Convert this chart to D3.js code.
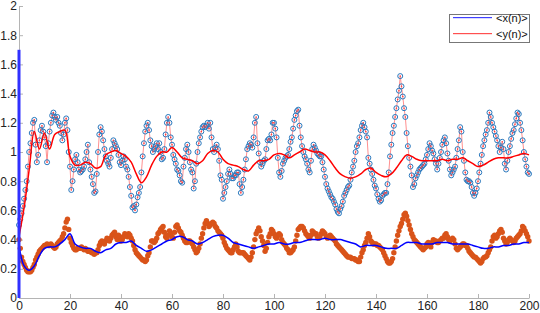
<!DOCTYPE html>
<html>
<head>
<meta charset="utf-8">
<script src="https://cdn.jsdelivr.net/npm/d3@7"></script>
<style>
  html, body { margin: 0; padding: 0; background: #fff; }
  svg { display: block; }
  .axis path, .axis line { stroke: #b4b4b4; }
  .axis text { font-family: "Liberation Sans", Arial, sans-serif; font-size: 12px; fill: #222; }
</style>
</head>
<body>
<div id="chart"></div>
<script>
// samples y(n), n = 0..200 (step 0.5)
const yVals = [
  0.50,0.54,0.58,0.63,0.68,0.74,0.80,0.90,1.00,1.06,
  1.13,1.20,1.22,1.05,0.93,0.98,1.08,1.15,1.18,1.14,
  1.10,1.04,0.93,1.06,1.14,1.20,1.25,1.27,1.24,1.22,
  1.24,1.20,1.18,1.13,1.08,1.12,1.20,1.23,1.15,1.00,
  0.90,0.74,0.80,0.88,0.95,0.98,0.93,0.88,0.86,0.87,
  0.88,0.90,0.95,1.00,1.05,0.93,0.88,0.83,0.78,0.72,
  0.73,0.85,1.00,1.12,1.17,1.14,1.08,1.02,0.97,0.94,
  0.92,0.90,0.96,1.02,1.08,1.06,1.04,1.02,0.98,0.93,
  0.91,0.94,0.97,0.95,0.90,0.88,0.83,0.76,0.70,0.62,
  0.63,0.60,0.64,0.69,0.72,0.76,0.86,0.97,1.06,1.14,
  1.18,1.20,1.15,1.08,1.04,1.00,1.02,1.04,1.06,1.02,
  1.06,1.00,0.95,0.96,1.02,1.12,1.20,1.24,1.20,1.10,
  1.05,0.98,0.95,0.92,0.88,0.87,0.84,0.80,0.79,0.90,
  0.96,1.02,1.05,1.00,0.93,0.88,0.86,0.75,0.80,0.92,
  1.00,1.06,1.10,1.14,1.17,1.18,1.17,1.18,1.20,1.16,
  1.20,1.10,1.02,1.00,1.03,1.05,1.02,0.94,0.84,0.81,
  0.68,0.72,0.76,0.80,0.85,0.88,0.85,0.82,0.82,0.84,
  0.84,0.86,0.86,0.78,0.72,0.76,0.81,0.88,0.95,1.02,
  1.04,1.06,1.05,1.03,1.10,1.20,1.24,1.06,0.99,0.93,
  0.90,0.92,0.94,0.95,1.02,1.08,1.09,1.08,1.12,1.20,
  1.20,1.16,1.10,0.96,0.86,0.83,0.87,0.92,0.94,0.96,
  0.97,0.98,1.02,1.07,1.10,1.16,1.22,1.25,1.28,1.29,
  1.18,1.10,1.04,1.00,0.97,0.95,0.92,0.88,0.86,0.94,
  1.02,1.05,1.03,1.01,0.99,0.98,0.97,0.97,0.93,0.88,
  0.83,0.78,0.75,0.73,0.71,0.69,0.68,0.66,0.64,0.61,
  0.59,0.58,0.61,0.63,0.66,0.70,0.72,0.74,0.76,0.77,
  0.81,0.86,0.90,0.94,1.00,1.04,1.06,1.10,1.15,1.18,
  1.20,1.17,1.14,1.10,0.96,0.92,0.88,0.85,0.81,0.77,
  0.75,0.71,0.68,0.66,0.67,0.70,0.71,0.72,0.72,0.78,
  0.86,0.97,1.05,1.13,1.18,1.24,1.30,1.36,1.42,1.52,
  1.45,1.38,1.30,1.24,1.13,1.04,0.96,0.90,0.84,0.76,
  0.78,0.82,0.84,0.86,0.88,0.89,0.90,0.91,0.92,0.95,
  0.98,1.02,1.06,1.04,1.01,0.99,0.95,0.92,0.88,0.92,
  0.96,1.00,1.05,1.08,1.10,1.06,0.99,0.94,0.88,0.84,
  0.86,0.88,0.90,0.96,1.02,1.08,1.17,1.14,1.00,0.94,
  0.86,0.81,0.80,0.80,0.79,0.76,0.72,0.70,0.72,0.75,
  0.80,0.86,0.92,0.98,1.04,1.08,1.12,1.15,1.20,1.27,
  1.24,1.20,1.17,1.14,1.11,1.08,1.04,1.00,1.03,1.07,
  1.02,0.92,0.88,0.94,1.00,1.04,1.09,1.13,1.15,1.19,
  1.23,1.27,1.26,1.20,1.15,1.08,1.00,0.95,0.90,0.86,
  0.85
];

// samples x(n), n = 0..200 (step 0.5)
const xVals = [
  0.40,0.34,0.28,0.25,0.23,0.21,0.19,0.18,0.18,0.18,
  0.19,0.21,0.23,0.26,0.28,0.30,0.32,0.33,0.34,0.35,
  0.36,0.36,0.37,0.36,0.36,0.37,0.36,0.35,0.34,0.35,
  0.37,0.38,0.39,0.40,0.42,0.44,0.48,0.52,0.54,0.47,
  0.41,0.38,0.36,0.34,0.33,0.33,0.34,0.34,0.34,0.35,
  0.34,0.33,0.34,0.33,0.32,0.32,0.32,0.31,0.31,0.30,
  0.31,0.31,0.33,0.36,0.38,0.39,0.38,0.37,0.39,0.41,
  0.40,0.39,0.41,0.43,0.44,0.45,0.42,0.40,0.43,0.42,
  0.39,0.40,0.42,0.44,0.43,0.42,0.44,0.43,0.41,0.39,
  0.36,0.33,0.31,0.30,0.29,0.28,0.27,0.26,0.26,0.25,
  0.26,0.29,0.31,0.35,0.39,0.39,0.38,0.39,0.41,0.44,
  0.45,0.47,0.48,0.49,0.45,0.42,0.41,0.43,0.46,0.44,
  0.42,0.41,0.45,0.49,0.50,0.48,0.46,0.45,0.43,0.41,
  0.39,0.38,0.38,0.39,0.39,0.38,0.37,0.35,0.33,0.31,
  0.32,0.34,0.37,0.41,0.44,0.48,0.51,0.53,0.51,0.49,
  0.50,0.51,0.52,0.51,0.49,0.48,0.46,0.45,0.44,0.43,
  0.41,0.38,0.36,0.34,0.33,0.32,0.31,0.31,0.33,0.35,
  0.37,0.35,0.32,0.31,0.31,0.31,0.31,0.30,0.29,0.28,
  0.27,0.26,0.28,0.31,0.35,0.40,0.44,0.46,0.48,0.46,
  0.42,0.39,0.36,0.32,0.34,0.38,0.42,0.44,0.47,0.46,
  0.44,0.42,0.41,0.43,0.44,0.43,0.40,0.38,0.37,0.36,
  0.34,0.33,0.31,0.31,0.32,0.33,0.35,0.39,0.43,0.47,
  0.48,0.49,0.49,0.48,0.46,0.44,0.43,0.42,0.41,0.43,
  0.46,0.45,0.44,0.44,0.42,0.41,0.42,0.44,0.46,0.45,
  0.44,0.42,0.41,0.42,0.43,0.42,0.41,0.40,0.39,0.37,
  0.36,0.35,0.34,0.33,0.32,0.31,0.30,0.29,0.28,0.28,
  0.28,0.27,0.27,0.27,0.26,0.26,0.25,0.25,0.28,0.31,
  0.33,0.36,0.38,0.41,0.44,0.42,0.39,0.38,0.37,0.37,
  0.37,0.36,0.36,0.35,0.34,0.33,0.31,0.29,0.27,0.25,
  0.24,0.24,0.25,0.27,0.31,0.35,0.39,0.43,0.46,0.49,
  0.51,0.54,0.57,0.58,0.56,0.53,0.50,0.47,0.44,0.42,
  0.40,0.39,0.38,0.37,0.36,0.35,0.34,0.33,0.34,0.35,
  0.37,0.38,0.36,0.35,0.38,0.40,0.39,0.39,0.38,0.38,
  0.39,0.40,0.41,0.41,0.43,0.44,0.42,0.40,0.39,0.40,
  0.41,0.40,0.37,0.34,0.33,0.34,0.35,0.36,0.37,0.37,
  0.36,0.36,0.34,0.32,0.31,0.30,0.29,0.28,0.28,0.27,
  0.26,0.25,0.24,0.25,0.27,0.28,0.28,0.29,0.31,0.33,
  0.35,0.39,0.42,0.43,0.41,0.42,0.44,0.46,0.47,0.45,
  0.41,0.39,0.37,0.38,0.40,0.41,0.40,0.39,0.38,0.39,
  0.41,0.42,0.43,0.44,0.46,0.49,0.48,0.46,0.44,0.42,
  0.39
];

// running means, n = 0..200 (step 2)
const yMean = [
  0.42,0.62,0.88,1.14,1.02,1.13,1.02,1.12,1.14,1.15,
  0.97,0.91,0.91,0.93,0.92,0.89,0.90,0.98,1.00,1.01,
  0.99,0.97,0.93,0.85,0.79,0.83,0.91,0.97,1.00,1.00,
  1.03,1.00,0.96,0.95,0.94,0.92,0.94,0.99,1.01,1.00,
  0.95,0.92,0.91,0.90,0.88,0.87,0.91,0.94,0.94,0.95,
  0.98,0.99,0.98,0.96,0.98,1.00,1.02,1.01,1.00,1.00,
  0.98,0.94,0.89,0.85,0.83,0.82,0.83,0.85,0.88,0.89,
  0.86,0.84,0.83,0.85,0.89,0.94,0.98,0.97,0.95,0.94,
  0.94,0.94,0.94,0.95,0.94,0.95,0.95,0.96,0.94,0.92,
  0.90,0.91,0.93,0.95,0.96,0.96,0.96,0.97,0.98,0.99,
  0.98
];
const xMean = [
  0.36,0.22,0.19,0.22,0.29,0.34,0.35,0.35,0.37,0.40,
  0.44,0.37,0.35,0.34,0.34,0.32,0.31,0.33,0.34,0.37,
  0.38,0.38,0.39,0.36,0.34,0.32,0.33,0.35,0.37,0.39,
  0.40,0.42,0.42,0.40,0.39,0.37,0.38,0.40,0.42,0.43,
  0.43,0.41,0.38,0.37,0.36,0.35,0.34,0.35,0.36,0.37,
  0.37,0.38,0.37,0.37,0.38,0.38,0.39,0.40,0.40,0.40,
  0.41,0.40,0.40,0.40,0.39,0.38,0.37,0.35,0.36,0.36,
  0.36,0.35,0.34,0.34,0.34,0.36,0.38,0.38,0.38,0.37,
  0.37,0.37,0.38,0.38,0.38,0.37,0.37,0.37,0.37,0.36,
  0.35,0.34,0.34,0.35,0.35,0.36,0.36,0.37,0.37,0.38,
  0.38
];

// start spike of <x(n)> at n = 0
const spikeVals = [0, 1.7];

const xTicks = [0, 20, 40, 60, 80, 100, 120, 140, 160, 180, 200];
const yTicks = [0, 0.2, 0.4, 0.6, 0.8, 1, 1.2, 1.4, 1.6, 1.8, 2];
const legendLabels = ['<x(n)>', '<y(n)>'];
const legendColors = ['#4040ff', '#ff5050'];

const W = 540, H = 313;
const margin = {top: 6, right: 11, bottom: 15, left: 19};

const svg = d3.select('#chart').append('svg')
  .attr('width', W)
  .attr('height', H);

const x = d3.scaleLinear().domain([0, 200]).range([margin.left, W - margin.right]);
const y = d3.scaleLinear().domain([0, 2]).range([H - margin.bottom, margin.top]);

// axes, ticks point inward
svg.append('g')
  .attr('class', 'axis')
  .attr('transform', `translate(0,${H - margin.bottom})`)
  .call(d3.axisBottom(x).tickValues(xTicks).tickSizeInner(-4).tickSizeOuter(0).tickPadding(3));

svg.append('g')
  .attr('class', 'axis')
  .attr('transform', `translate(${margin.left},0)`)
  .call(d3.axisLeft(y).tickValues(yTicks).tickFormat(d => String(+d.toFixed(1)))
    .tickSizeInner(-4).tickSizeOuter(0).tickPadding(2));

const plot = svg.append('g');
const step = 0.5;

// x(n) samples, orange dots
plot.append('g').selectAll('circle')
  .data(xVals).join('circle')
  .attr('cx', (d, i) => x(i * step))
  .attr('cy', d => y(d))
  .attr('r', 2.7)
  .attr('fill', '#d95319');

// y(n) samples: light red line, open blue circles, red dots
const lineY = d3.line().x((d, i) => x(i * step)).y(d => y(d));
plot.append('path')
  .attr('d', lineY(yVals))
  .attr('fill', 'none')
  .attr('stroke', '#ff9090')
  .attr('stroke-width', 1);

plot.append('g').selectAll('circle')
  .data(yVals).join('circle')
  .attr('cx', (d, i) => x(i * step))
  .attr('cy', d => y(d))
  .attr('r', 2.5)
  .attr('fill', 'none')
  .attr('stroke', '#2a78bd')
  .attr('stroke-width', 1);

plot.append('g').selectAll('circle')
  .data(yVals).join('circle')
  .attr('cx', (d, i) => x(i * step))
  .attr('cy', d => y(d))
  .attr('r', 0.8)
  .attr('fill', '#ff3a3a');

// running means
const lineMean = d3.line().x((d, i) => x(i * 2)).y(d => y(d)).curve(d3.curveCatmullRom);

plot.append('path')
  .attr('d', lineMean(yMean))
  .attr('fill', 'none')
  .attr('stroke', '#ff0000')
  .attr('stroke-width', 1.5);

plot.append('path')
  .attr('d', lineMean(xMean))
  .attr('fill', 'none')
  .attr('stroke', '#0000ff')
  .attr('stroke-width', 1.5);

plot.append('path')
  .attr('d', d3.line().x(() => x(0)).y(d => y(d))(spikeVals))
  .attr('stroke', '#3030ff')
  .attr('stroke-width', 3);

// legend
const legend = svg.append('g').attr('transform', 'translate(449,14)');
legend.append('rect')
  .attr('x', 0.5).attr('y', 0.5)
  .attr('width', 80).attr('height', 28)
  .attr('fill', '#fff')
  .attr('stroke', '#777')
  .attr('stroke-width', 1);

const items = legend.selectAll('g.item')
  .data(legendLabels).join('g')
  .attr('class', 'item')
  .attr('transform', (d, i) => `translate(0,${3 + i * 16})`);

items.append('rect')
  .attr('x', 4).attr('y', 0)
  .attr('width', 39).attr('height', 1.2)
  .attr('fill', (d, i) => legendColors[i]);

items.append('text')
  .attr('x', 47).attr('y', 5)
  .attr('font-family', '"Liberation Sans", Arial, sans-serif')
  .attr('font-size', 11)
  .attr('fill', '#111')
  .text(d => d);
</script>
</body>
</html>
